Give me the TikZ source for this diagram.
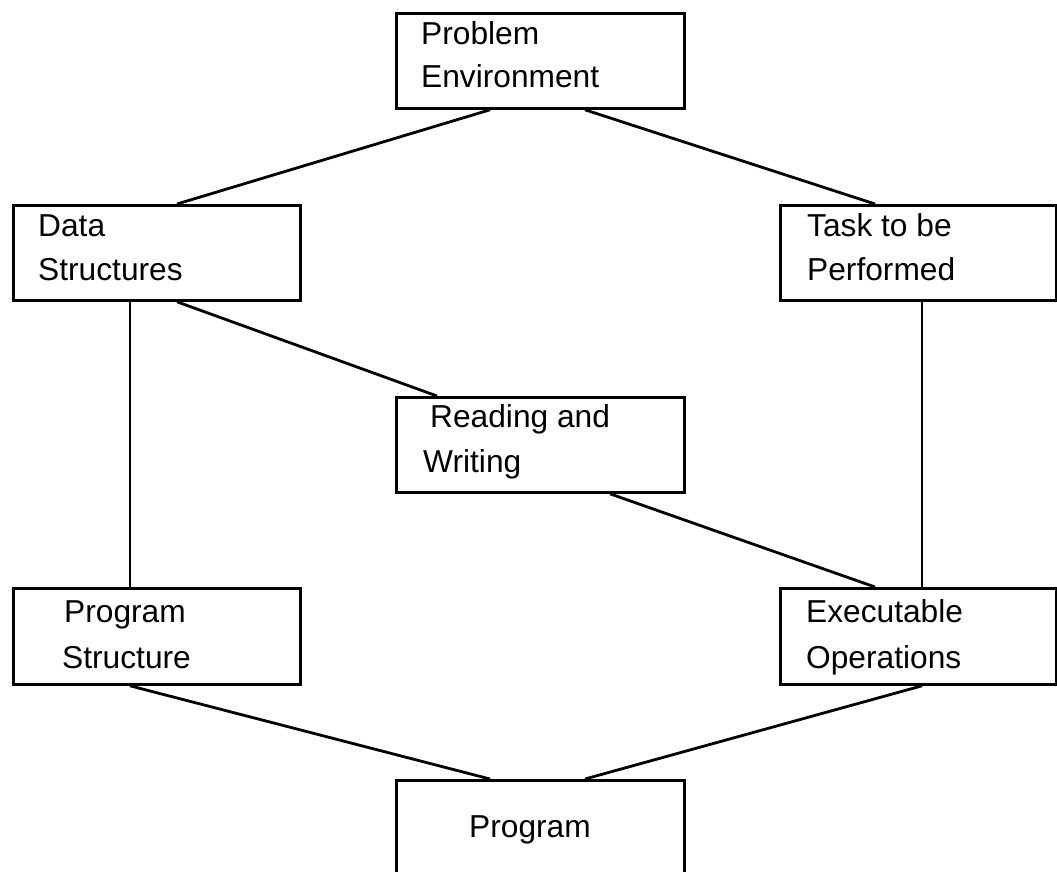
\documentclass[tikz,border=0pt]{standalone}
\usepackage{fontspec}
\setmainfont{Liberation Sans}
\begin{document}
\begin{tikzpicture}[x=1pt,y=-1pt,
  box/.style={draw=black,line width=2.8pt,fill=none},
  lbl/.style={anchor=base west,inner sep=0pt,align=left,
    font=\fontsize{31.7}{44}\selectfont},
  link/.style={draw=black,line width=2.8pt}]
\useasboundingbox (0,0) rectangle (1057,872);

% boxes
\node[box,minimum width=288pt,minimum height=95pt,anchor=north west] (pe) at (395,12) {};
\node[box,minimum width=287pt,minimum height=95pt,anchor=north west] (ds) at (12,204) {};
\node[box,minimum width=276pt,minimum height=95pt,anchor=north west] (tp) at (779,204) {};
\node[box,minimum width=288pt,minimum height=95pt,anchor=north west] (rw) at (395,396) {};
\node[box,minimum width=287pt,minimum height=96pt,anchor=north west] (ps) at (12,587) {};
\node[box,minimum width=276pt,minimum height=96pt,anchor=north west] (eo) at (779,587) {};
\node[box,minimum width=288pt,minimum height=100pt,anchor=north west] (pg) at (395,779) {};

% labels
\node[lbl] (pet1) at (421,45) {Problem};
\node[lbl] (pet2) at (421,88) {Environment};
\node[lbl] (dst1) at (38,236) {Data};
\node[lbl] (dst2) at (38,280) {Structures};
\node[lbl] (tpt1) at (807,236) {Task to be};
\node[lbl] (tpt2) at (807,280) {Performed};
\node[lbl] (rwt1) at (430,427) {Reading and};
\node[lbl] (rwt2) at (423,472) {Writing};
\node[lbl] (pst1) at (64,622) {Program};
\node[lbl] (pst2) at (62,668) {Structure};
\node[lbl] (eot1) at (806,622) {Executable};
\node[lbl] (eot2) at (806,668) {Operations};
\node[lbl] (pgt) at (469,837) {Program};

% connectors
\draw[link] ([xshift=95pt]pe.south west) -- ([xshift=165pt]ds.north west);
\draw[link] ([xshift=190pt]pe.south west) -- ([xshift=96pt]tp.north west);
\draw[link] ([xshift=118pt]ds.south west) -- ([xshift=118pt]ps.north west);
\draw[link] ([xshift=165pt]ds.south west) -- ([xshift=42pt]rw.north west);
\draw[link] ([xshift=143pt]tp.south west) -- ([xshift=143pt]eo.north west);
\draw[link] ([xshift=215pt]rw.south west) -- ([xshift=96pt]eo.north west);
\draw[link] ([xshift=118pt]ps.south west) -- ([xshift=95pt]pg.north west);
\draw[link] ([xshift=143pt]eo.south west) -- ([xshift=190pt]pg.north west);
\end{tikzpicture}
\end{document}
